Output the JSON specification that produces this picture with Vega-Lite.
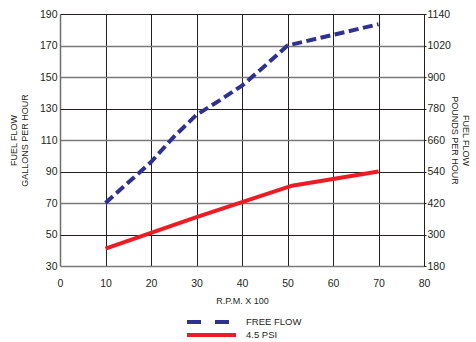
{
  "$schema": "https://vega.github.io/schema/vega-lite/v6.json",
  "width": 364,
  "height": 252,
  "autosize": {"type": "none"},
  "padding": {"left": 60, "top": 14, "right": 52, "bottom": 76},
  "background": "white",
  "config": {
    "view": {"stroke": null},
    "font": "Liberation Sans",
    "axis": {
      "labelFont": "Liberation Sans",
      "titleFont": "Liberation Sans",
      "labelFontSize": 10.5,
      "labelColor": "#231f20",
      "titleColor": "#231f20",
      "titleFontSize": 9,
      "titleFontWeight": "normal",
      "titleLineHeight": 11
    }
  },
  "data": {
    "values": [
      {"series": "FREE FLOW", "rpm": 10, "gph": 70},
      {"series": "FREE FLOW", "rpm": 15, "gph": 83},
      {"series": "FREE FLOW", "rpm": 20, "gph": 96},
      {"series": "FREE FLOW", "rpm": 25, "gph": 112},
      {"series": "FREE FLOW", "rpm": 30, "gph": 126},
      {"series": "FREE FLOW", "rpm": 35, "gph": 135},
      {"series": "FREE FLOW", "rpm": 40, "gph": 144.5},
      {"series": "FREE FLOW", "rpm": 45, "gph": 157},
      {"series": "FREE FLOW", "rpm": 50, "gph": 170},
      {"series": "FREE FLOW", "rpm": 70, "gph": 183.5},
      {"series": "4.5 PSI", "rpm": 10, "gph": 41},
      {"series": "4.5 PSI", "rpm": 20, "gph": 51},
      {"series": "4.5 PSI", "rpm": 30, "gph": 61},
      {"series": "4.5 PSI", "rpm": 40, "gph": 70.5},
      {"series": "4.5 PSI", "rpm": 51, "gph": 81},
      {"series": "4.5 PSI", "rpm": 70, "gph": 90}
    ]
  },
  "layer": [
    {
      "transform": [{"filter": "datum.series === 'FREE FLOW'"}],
      "mark": {"type": "line", "strokeWidth": 4, "strokeCap": "butt", "strokeJoin": "miter", "strokeDash": [10, 4.5]},
      "encoding": {
        "x": {
          "field": "rpm", "type": "quantitative",
          "scale": {"domain": [0, 80], "nice": false, "zero": false},
          "axis": {
            "values": [0, 5, 10, 15, 20, 25, 30, 35, 40, 45, 50, 55, 60, 65, 70, 75, 80],
            "labelExpr": "datum.value % 10 === 0 ? datum.label : ''",
            "grid": true,
            "gridColor": {"condition": {"test": "datum.value === 0", "value": "#6d6d6d"}, "value": "#231f20"},
            "gridWidth": {"condition": {"test": "datum.value === 0", "value": 1.5}, "value": 1},
            "ticks": false,
            "domain": false,
            "labelPadding": 12,
            "labelFlush": false,
            "title": "R.P.M. X 100",
            "titlePadding": 8
          }
        },
        "y": {
          "field": "gph", "type": "quantitative",
          "scale": {"domain": [30, 190], "nice": false, "zero": false},
          "axis": {
            "values": [30, 50, 70, 90, 110, 130, 150, 170, 190],
            "grid": true,
            "gridColor": {"condition": {"test": "datum.value === 190 || datum.value === 130 || datum.value === 90 || datum.value === 50", "value": "#231f20"}, "value": "#7a7a7a"},
            "gridWidth": {"condition": {"test": "datum.value === 190 || datum.value === 130 || datum.value === 90 || datum.value === 50", "value": 1}, "value": 1.6},
            "ticks": false,
            "domain": false,
            "labelPadding": 3,
            "title": ["FUEL FLOW", "GALLONS PER HOUR"],
            "titlePadding": 10
          }
        },
        "color": {
          "field": "series", "type": "nominal",
          "scale": {"domain": ["FREE FLOW", "4.5 PSI"], "range": ["#2e3192", "#ed1c24"]},
          "legend": {
            "title": null,
            "orient": "none",
            "legendX": 125,
            "legendY": 302,
            "padding": 0,
            "symbolType": "stroke",
            "symbolSize": 2400,
            "symbolStrokeWidth": 4,
            "clipHeight": 12,
            "rowPadding": 1,
            "labelFont": "Liberation Sans",
            "labelFontSize": 9.5,
            "labelColor": "#231f20",
            "labelOffset": 8,
            "encode": {
              "symbols": {
                "update": {
                  "strokeDash": [
                    {"test": "datum.value === 'FREE FLOW'", "value": [14, 14]},
                    {"value": [1, 0]}
                  ]
                }
              }
            }
          }
        }
      }
    },
    {
      "transform": [{"filter": "datum.series === '4.5 PSI'"}],
      "mark": {"type": "line", "strokeWidth": 4, "strokeCap": "butt", "strokeJoin": "miter"},
      "encoding": {
        "x": {"field": "rpm", "type": "quantitative"},
        "y": {"field": "gph", "type": "quantitative", "axis": null},
        "color": {"field": "series", "type": "nominal"}
      }
    },
    {
      "mark": {"type": "point", "opacity": 0},
      "encoding": {
        "y": {
          "field": "gph", "type": "quantitative",
          "scale": {"domain": [30, 190], "nice": false, "zero": false},
          "axis": {
            "orient": "right",
            "values": [30, 50, 70, 90, 110, 130, 150, 170, 190],
            "labelExpr": "format(datum.value * 6, 'd')",
            "grid": false,
            "ticks": true,
            "tickSize": 2,
            "tickColor": "#231f20",
            "domain": true,
            "domainColor": "#231f20",
            "domainWidth": 1,
            "labelPadding": 1,
            "title": ["FUEL FLOW", "POUNDS PER HOUR"],
            "titlePadding": -1
          }
        }
      }
    }
  ],
  "resolve": {"axis": {"y": "independent"}}
}
